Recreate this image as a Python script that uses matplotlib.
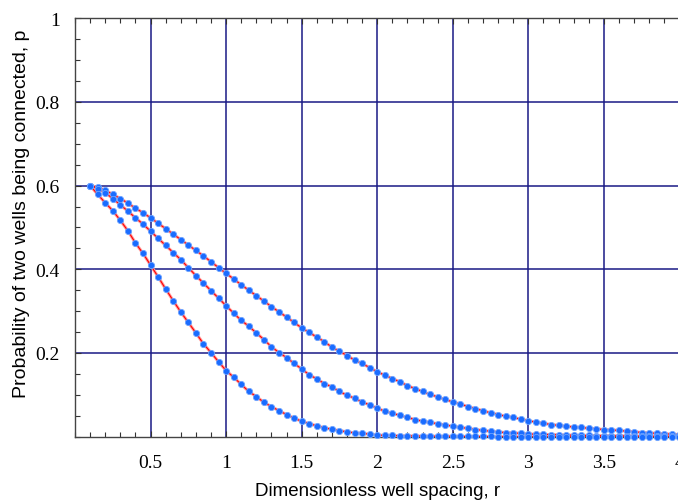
import numpy as np
import matplotlib
matplotlib.use("Agg")
import matplotlib.pyplot as plt
from matplotlib.ticker import MultipleLocator

# Dimensionless well spacing, sampled every 0.05 from 0.1 to 4.0
r = np.round(np.arange(0.10, 4.0001, 0.05), 2)

# Connection probability for the three cases (upper, middle, lower curve)
p_upper = [
    0.600, 0.596, 0.589, 0.579, 0.569, 0.558, 0.546, 0.535, 0.523, 0.510,
    0.497, 0.484, 0.471, 0.458, 0.445, 0.432, 0.418, 0.404, 0.390, 0.377,
    0.363, 0.350, 0.337, 0.324, 0.311, 0.298, 0.286, 0.273, 0.260, 0.249,
    0.238, 0.227, 0.214, 0.204, 0.194, 0.183, 0.175, 0.165, 0.155, 0.147,
    0.139, 0.131, 0.122, 0.115, 0.108, 0.101, 0.095, 0.089, 0.083, 0.078,
    0.072, 0.067, 0.062, 0.057, 0.053, 0.049, 0.046, 0.042, 0.038, 0.035,
    0.032, 0.029, 0.027, 0.025, 0.023, 0.022, 0.020, 0.019, 0.017, 0.016,
    0.015, 0.013, 0.012, 0.010, 0.009, 0.008, 0.007, 0.006, 0.005,
]
p_middle = [
    0.600, 0.593, 0.583, 0.569, 0.554, 0.539, 0.523, 0.508, 0.491, 0.474,
    0.457, 0.440, 0.423, 0.404, 0.385, 0.367, 0.349, 0.331, 0.313, 0.295,
    0.278, 0.264, 0.248, 0.232, 0.215, 0.201, 0.189, 0.175, 0.162, 0.148,
    0.138, 0.127, 0.119, 0.108, 0.099, 0.092, 0.083, 0.076, 0.068, 0.061,
    0.056, 0.051, 0.046, 0.041, 0.037, 0.034, 0.031, 0.028, 0.025, 0.022,
    0.020, 0.017, 0.015, 0.013, 0.011, 0.010, 0.009, 0.008, 0.0065, 0.006,
    0.0055, 0.005, 0.0045, 0.004, 0.0035, 0.003, 0.003, 0.0025, 0.0025, 0.002,
    0.002, 0.002, 0.0015, 0.0015, 0.001, 0.001, 0.001, 0.001, 0.001,
]
p_lower = [
    0.600, 0.579, 0.559, 0.540, 0.517, 0.492, 0.463, 0.438, 0.410, 0.382,
    0.353, 0.325, 0.298, 0.273, 0.248, 0.222, 0.201, 0.179, 0.158, 0.142,
    0.125, 0.108, 0.096, 0.082, 0.072, 0.062, 0.053, 0.044, 0.037, 0.031,
    0.026, 0.021, 0.018, 0.014, 0.012, 0.009, 0.008, 0.006, 0.004, 0.003,
    0.003, 0.002, 0.002, 0.0015, 0.0015, 0.001, 0.001, 0.001, 0.001, 0.0005,
    0.0005, 0.0005, 0.0005, 0.0005, 0.0, 0.0, 0.0, 0.0, 0.0, 0.0,
    0.0, 0.0, 0.0, 0.0, 0.0, 0.0, 0.0, 0.0, 0.0, 0.0,
    0.0, 0.0, 0.0, 0.0, 0.0, 0.0, 0.0, 0.0, 0.0,
]

x_major = [0.5, 1, 1.5, 2, 2.5, 3, 3.5, 4]
x_labels = ["0.5", "1", "1.5", "2", "2.5", "3", "3.5", "4"]
y_major = [0.2, 0.4, 0.6, 0.8, 1.0]
y_labels = ["0.2", "0.4", "0.6", "0.8", "1"]

fig = plt.figure(figsize=(6.78, 5.02), dpi=100)
ax = fig.add_axes([0.1106, 0.1281, 0.8915, 0.8337])

ax.set_xlim(0, 4)
ax.set_ylim(0, 1)

grid_color = "#1a1a85"
ax.set_xticks(x_major)
ax.set_yticks(y_major)
ax.xaxis.set_minor_locator(MultipleLocator(0.1))
ax.yaxis.set_minor_locator(MultipleLocator(0.05))
ax.grid(True, which="major", color=grid_color, linewidth=1.1, zorder=1)
ax.set_axisbelow(True)

serif = ["Liberation Serif", "DejaVu Serif"]
ax.set_xticklabels(x_labels, fontfamily=serif, fontsize=14)
ax.set_yticklabels(y_labels, fontfamily=serif, fontsize=14)

ax.tick_params(axis="both", which="both", direction="in", color="#333333",
               top=True, right=False)
ax.tick_params(axis="both", which="major", length=4, width=0.8)
ax.tick_params(axis="both", which="minor", length=3.5, width=0.8)
ax.tick_params(axis="x", which="major", pad=12.5)
ax.tick_params(axis="y", which="major", pad=11)

for side in ("left", "bottom", "top"):
    ax.spines[side].set_color("#444444")
    ax.spines[side].set_linewidth(1.0)
ax.spines["right"].set_visible(False)

for p in (p_upper, p_middle, p_lower):
    ax.plot(r, p, color="#ff9c9c", linewidth=2.2, zorder=3, solid_capstyle="round")
    ax.plot(r, p, color="#ff0000", linewidth=0.8, zorder=4)
    ax.plot(r, p, linestyle="none", marker="o", markersize=4.5,
            markerfacecolor="#1a6cff", markeredgecolor="#6ea4ff",
            markeredgewidth=0.6, zorder=5, clip_on=False)

sans = ["Liberation Sans", "DejaVu Sans"]
ax.set_xlabel("Dimensionless well spacing, r", fontfamily=sans, fontsize=13.5,
              labelpad=8)
ax.set_ylabel("Probability of two wells being connected, p", fontfamily=sans,
              fontsize=14)
ax.yaxis.set_label_coords(-0.0745, 0.534)

fig.savefig("out.png", dpi=100)
